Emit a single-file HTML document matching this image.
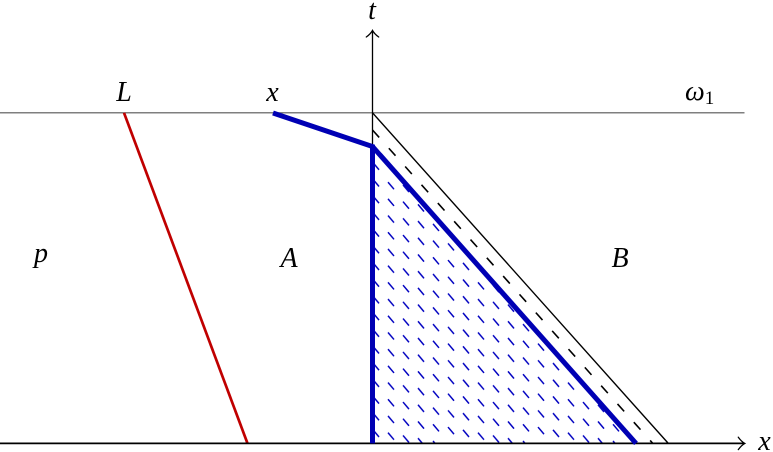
<!DOCTYPE html>
<html>
<head>
<meta charset="utf-8">
<style>
  html,body{margin:0;padding:0;background:#fff;}
  svg{display:block;}
  text{font-family:"Liberation Serif","DejaVu Serif",serif;font-style:italic;fill:#000;}
</style>
</head>
<body>
<svg width="773" height="452" viewBox="0 0 773 452" xmlns="http://www.w3.org/2000/svg">
  <defs>
    <pattern id="hatch" patternUnits="userSpaceOnUse" x="368.5" y="391.65" width="90" height="16.7">
      <g stroke="#0000c0" stroke-width="1.5" stroke-linecap="butt">
        <line x1="4.5" y1="4.8" x2="10.5" y2="11.9"/>
        <line x1="4.5" y1="-11.9" x2="10.5" y2="-4.8"/>
        <line x1="4.5" y1="21.5" x2="10.5" y2="28.6"/>

        <line x1="19.5" y1="7.58" x2="25.5" y2="14.68"/>
        <line x1="19.5" y1="-9.12" x2="25.5" y2="-2.02"/>
        <line x1="19.5" y1="24.28" x2="25.5" y2="31.38"/>

        <line x1="34.5" y1="10.37" x2="40.5" y2="17.47"/>
        <line x1="34.5" y1="-6.33" x2="40.5" y2="0.77"/>
        <line x1="34.5" y1="27.07" x2="40.5" y2="34.17"/>

        <line x1="49.5" y1="13.15" x2="55.5" y2="20.25"/>
        <line x1="49.5" y1="-3.55" x2="55.5" y2="3.55"/>
        <line x1="49.5" y1="29.85" x2="55.5" y2="36.95"/>

        <line x1="64.5" y1="-0.77" x2="70.5" y2="6.33"/>
        <line x1="64.5" y1="15.93" x2="70.5" y2="23.03"/>
        <line x1="64.5" y1="-17.47" x2="70.5" y2="-10.37"/>

        <line x1="79.5" y1="2.02" x2="85.5" y2="9.12"/>
        <line x1="79.5" y1="18.72" x2="85.5" y2="25.82"/>
        <line x1="79.5" y1="-14.68" x2="85.5" y2="-7.58"/>
      </g>
    </pattern>
    <clipPath id="tri">
      <polygon points="372.5,146.5 372.5,443.4 636,443.4"/>
    </clipPath>
  </defs>

  <!-- hatch region -->
  <rect x="360" y="140" width="290" height="305" fill="url(#hatch)" clip-path="url(#tri)"/>

  <!-- top horizontal line -->
  <line x1="0" y1="112.8" x2="744.5" y2="112.8" stroke="#555" stroke-width="1.1"/>

  <!-- thin black diagonal -->
  <line x1="372.5" y1="112.8" x2="668.3" y2="443.4" stroke="#000" stroke-width="1.4"/>

  <!-- dashed black diagonal -->
  <line x1="372.5" y1="130" x2="652.8" y2="443.4" stroke="#000" stroke-width="1.6" stroke-dasharray="10 14.5"/>

  <!-- red line -->
  <line x1="124" y1="112.8" x2="247.5" y2="443.4" stroke="#c00000" stroke-width="2.7"/>

  <!-- axes -->
  <line x1="0" y1="443.4" x2="744" y2="443.4" stroke="#000" stroke-width="1.7"/>
  <path d="M738.3,437.2 Q741.5,441.6 744.8,443.4 Q741.5,445.2 738.3,449.6" fill="none" stroke="#000" stroke-width="1.3" stroke-linecap="round"/>
  <line x1="372.5" y1="443.4" x2="372.5" y2="31" stroke="#000" stroke-width="1.3"/>
  <path d="M366.3,37 Q370.7,33.8 372.5,30.4 Q374.3,33.8 378.7,37" fill="none" stroke="#000" stroke-width="1.3" stroke-linecap="round"/>

  <!-- blue thick lines -->
  <path d="M273,113 L372.5,146.5 L372.5,443.4" fill="none" stroke="#0000b4" stroke-width="5"/>
  <line x1="372.5" y1="146.5" x2="636" y2="443.4" stroke="#0000b4" stroke-width="5"/>

  <!-- labels -->
  <text x="372" y="19" font-size="28" text-anchor="middle">t</text>
  <text x="124" y="101" font-size="28" text-anchor="middle">L</text>
  <text x="272.5" y="101" font-size="28" text-anchor="middle">x</text>
  <text x="685" y="100" font-size="28">ω<tspan font-size="19" font-style="normal" dy="4">1</tspan></text>
  <text x="41" y="262" font-size="28" text-anchor="middle">p</text>
  <text x="289" y="267" font-size="28" text-anchor="middle">A</text>
  <text x="620" y="267" font-size="28" text-anchor="middle">B</text>
  <text x="764.5" y="450" font-size="28" text-anchor="middle">x</text>
</svg>
</body>
</html>
